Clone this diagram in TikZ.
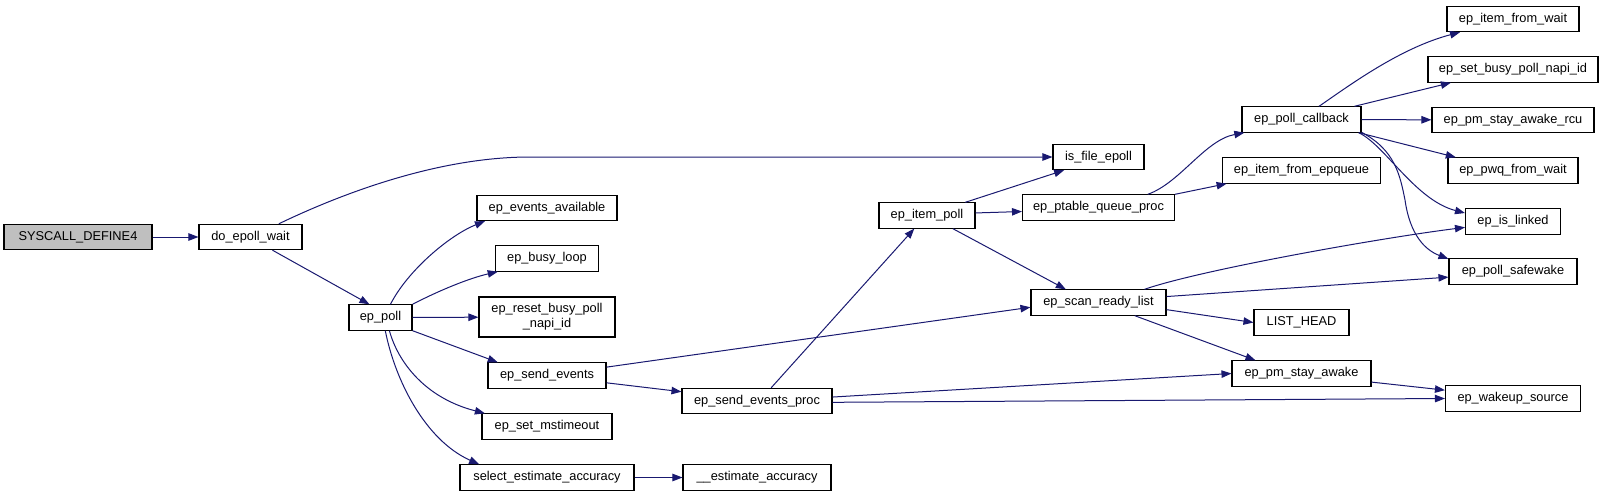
\documentclass[tikz,border=0pt]{standalone}
\usepackage{fontspec}
\setmainfont{Liberation Sans}
\usetikzlibrary{arrows.meta}
\definecolor{callblue}{HTML}{191970}
\definecolor{rootgray}{HTML}{BFBFBF}
\tikzset{call/.style={draw=callblue, line width=0.75pt, -{Triangle[length=7.5pt,width=5.6pt]}}}

\begin{document}
\begin{tikzpicture}[x=0.75pt,y=-0.75pt,font=\fontsize{9.6}{11.5}\selectfont]
\useasboundingbox (0,0) rectangle (1604,496);
 \begin{scope}[every node/.style={draw, line width=0.8pt, fill=white, inner sep=2pt, minimum height=19pt}]
  \node[fill=rootgray, minimum width=111pt] (sys) at (78,237) {SYSCALL\_DEFINE4};
  \node[minimum width=77.25pt] (dow) at (250.5,237) {do\_epoll\_wait};
  \node[minimum width=47.25pt] (epp) at (380.5,317.5) {ep\_poll};
  % callees of ep_poll
  \node[minimum width=105pt] (eva) at (547,208) {ep\_events\_available};
  \node[minimum width=77.25pt] (ebl) at (547,258.5) {ep\_busy\_loop};
  \node[minimum width=102pt, minimum height=30pt, align=center] (erb) at (547,317) {ep\_reset\_busy\_poll\\\_napi\_id};
  \node[minimum width=88.5pt] (ese) at (547,375.5) {ep\_send\_events};
  \node[minimum width=97.5pt] (esm) at (547,426.5) {ep\_set\_mstimeout};
  \node[minimum width=130.5pt] (sea) at (547,477.5) {select\_estimate\_accuracy};
  \node[minimum width=111pt] (eac) at (757,477.5) {\_\_estimate\_accuracy};
  \node[minimum width=112.5pt] (sep) at (757,401) {ep\_send\_events\_proc};
  \node[minimum width=72pt] (eip) at (927,215.5) {ep\_item\_poll};
  \node[minimum width=68.25pt] (ife) at (1098.5,157) {is\_file\_epoll};
  \node[minimum width=114pt] (ptq) at (1098.5,207.5) {ep\_ptable\_queue\_proc};
  \node[minimum width=101.25pt] (srl) at (1098.5,302.5) {ep\_scan\_ready\_list};
  \node[minimum width=89.25pt] (pcb) at (1301.5,119.5) {ep\_poll\_callback};
  \node[minimum width=118.5pt] (iep) at (1301.5,170.5) {ep\_item\_from\_epqueue};
  \node[minimum width=71.25pt] (lhd) at (1301.5,322.5) {LIST\_HEAD};
  \node[minimum width=104.25pt] (psa) at (1301.5,373.5) {ep\_pm\_stay\_awake};
  % leaves
  \node[minimum width=99pt] (ifw) at (1513,19) {ep\_item\_from\_wait};
  \node[minimum width=127.5pt] (sbp) at (1513,69.5) {ep\_set\_busy\_poll\_napi\_id};
  \node[minimum width=121.5pt] (psr) at (1513,120) {ep\_pm\_stay\_awake\_rcu};
  \node[minimum width=97.5pt] (pfw) at (1513,170.5) {ep\_pwq\_from\_wait};
  \node[minimum width=71.25pt] (eil) at (1513,221.5) {ep\_is\_linked};
  \node[minimum width=96pt] (pse) at (1513,271.5) {ep\_poll\_safewake};
  \node[minimum width=101.25pt] (wus) at (1513,398.5) {ep\_wakeup\_source};
 \end{scope}
  \path (sys) edge [call] (dow);
  \draw [call] (dow.25) .. controls (345,192) and (440,157) .. (530,157) -- (ife.west);
  \path (dow.-31) edge [call] (epp.130);
  \draw [call] (epp.53) .. controls (408,270) and (450,235) .. (eva.192);
  \draw [call] (epp.north east) .. controls (440,290) and (470,278) .. (ebl.195);
  \path (epp) edge [call] (erb);
  \path (epp.south east) edge [call] (ese.165);
  \draw [call] (epp.-56) .. controls (398,362) and (425,398) .. (esm.168);
  \draw [call] (epp.-70) .. controls (395,380) and (425,440) .. (sea.169);
  \path (sea) edge [call] (eac);
  \path (ese.-7) edge [call] (sep.173);
  \path (ese.8) edge [call] (srl.184);
  \path (sep.43) edge [call] (eip.-134);
  \path (sep.3) edge [call] (psa.west);
  \path (sep.-1) edge [call] (wus.west);
  \path (eip.19) edge [call] (ife.201);
  \path (eip.3) edge [call] (ptq.183);
  \path (eip.-27) edge [call] (srl.158);
  \draw [call] (ptq.15) .. controls (1180,183) and (1205,140) .. (pcb.193);
  \path (ptq.north east) edge [call] (iep.190);
  \draw [call] (srl.16) .. controls (1200,270) and (1380,238) .. (eil.187);
  \path (srl.5) edge [call] (pse.185);
  \path (srl.-6) edge [call] (lhd.west);
  \path (srl.-20) edge [call] (psa.164);
  \draw [call] (pcb.37) .. controls (1350,85) and (1400,48) .. (ifw.194);
  \path (pcb.14) edge [call] (sbp.192);
  \path (pcb) edge [call] (psr);
  \path (pcb.-13) edge [call] (pfw.167);
  \draw [call] (pcb.-13) .. controls (1385,145) and (1415,200) .. (eil.170);
  \draw [call] (pcb.-12) .. controls (1395,150) and (1400,175) .. (1405,200) .. controls (1410,235) and (1425,250) .. (pse.169);
  \path (psa.-7) edge [call] (wus.173);
\end{tikzpicture}
\end{document}
